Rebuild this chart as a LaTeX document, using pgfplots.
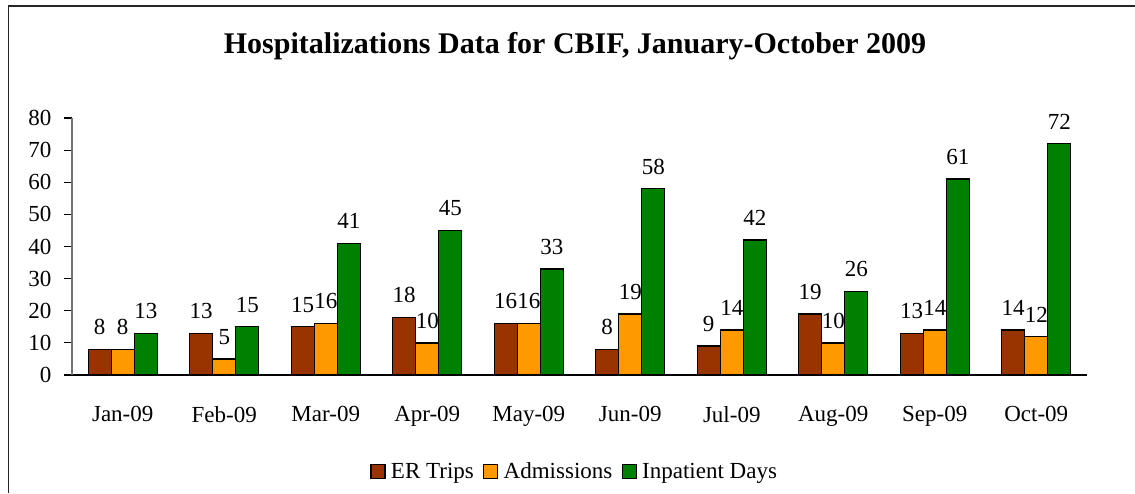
\documentclass[border=0pt]{standalone}
\usepackage{pgfplots}
\pgfplotsset{compat=1.18}
\usepackage{fontspec}
\setmainfont{Liberation Serif}
\definecolor{erc}{HTML}{993300}
\definecolor{adc}{HTML}{FF9900}
\definecolor{ipc}{HTML}{008000}
\begin{document}
\begin{tikzpicture}[x=0.75pt,y=0.75pt]
\useasboundingbox (0,0) rectangle (1135,-493);
\draw[line width=1.4pt,black!85] (8.5,-493) -- (8.5,-6) -- (1135,-6);
\node[font=\rmfamily\bfseries\fontsize{22.5}{24}\selectfont] at (575,-46) {Hospitalizations Data for CBIF, January-October 2009};
\begin{axis}[
  at={(54pt,-281.25pt)}, anchor=south west,
  scale only axis, width=761.25pt, height=192.75pt,
  xmin=-0.5, xmax=9.5, ymin=0, ymax=80,
  ytick={0,10,...,80},
  xtick={0,...,9},
  xticklabels={Jan-09,Feb-09,Mar-09,Apr-09,May-09,Jun-09,Jul-09,Aug-09,Sep-09,Oct-09},
  major x tick style={draw=none},
  extra x ticks={-0.5,0.5,...,9.5},
  extra x tick labels={},
  extra x tick style={major tick length=6pt, tick style={draw=black, line width=0.8pt}},
  tick align=outside,
  major tick length=6pt,
  ytick style={black, line width=0.8pt},
  axis x line*=bottom, axis y line*=left,
  x axis line style={-, black, line width=0.9pt},
  y axis line style={-, black!55, line width=1pt},
  /pgf/number format/assume math mode=true,
  ticklabel style={font=\rmfamily\fontsize{17.25}{19}\selectfont},
  xticklabel style={yshift=-14pt},
  yticklabel style={xshift=-6pt},
  ybar, bar width=0.227,
  every axis plot/.append style={draw=black, line width=1pt},
  nodes near coords,
  nodes near coords style={font=\rmfamily\fontsize{17.25}{19}\selectfont, black, yshift=7pt},
  legend columns=3,
  legend style={at={(0.4956,-0.377)}, anchor=center, draw=none,
    font=\rmfamily\fontsize{17.25}{19}\selectfont,
    /tikz/every even column/.append style={column sep=5pt},
    /tikz/every odd column/.append style={column sep=2pt}},
  legend image code/.code={\draw[#1, line width=0.9pt] (0pt,-5pt) rectangle (10.5pt,5.5pt);},
  clip=false,
]
\addplot[fill=erc, bar shift=-0.227] coordinates {(0,8) (1,13) (2,15) (3,18) (4,16) (5,8) (6,9) (7,19) (8,13) (9,14)};
\addplot[fill=adc, bar shift=0] coordinates {(0,8) (1,5) (2,16) (3,10) (4,16) (5,19) (6,14) (7,10) (8,14) (9,12)};
\addplot[fill=ipc, bar shift=0.227] coordinates {(0,13) (1,15) (2,41) (3,45) (4,33) (5,58) (6,42) (7,26) (8,61) (9,72)};
\legend{ER Trips, Admissions, Inpatient Days}
\end{axis}
\end{tikzpicture}
\end{document}
